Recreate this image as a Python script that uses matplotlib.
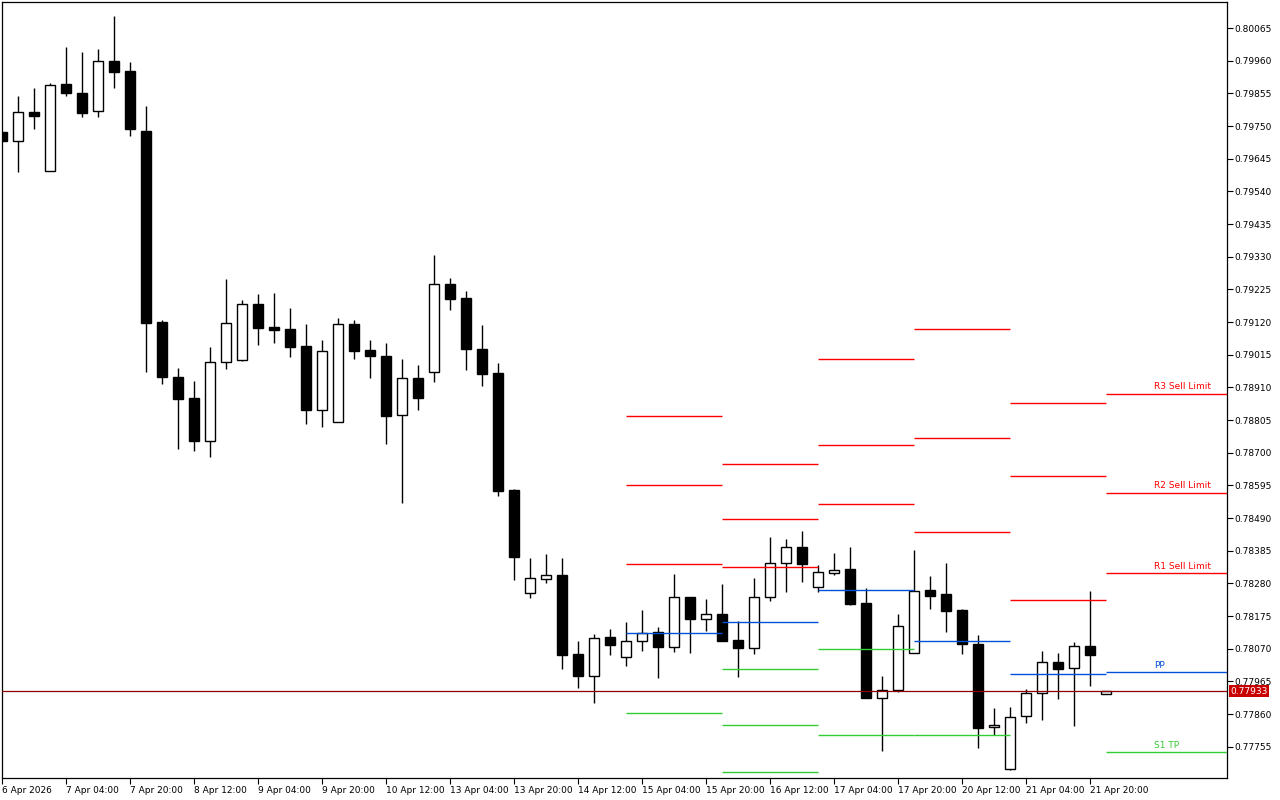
import numpy as np
import matplotlib.pyplot as plt
from matplotlib.transforms import blended_transform_factory

# H4 candles, 6 Apr 12:00 -> 22 Apr 00:00 (weekends skipped)
opens = [0.79731, 0.79703, 0.79794, 0.79606, 0.79885, 0.79855, 0.79797, 0.79958, 0.79927, 0.79734,
         0.79119, 0.78942, 0.78876, 0.78739, 0.78991, 0.78999, 0.79177, 0.79104, 0.79097, 0.79042,
         0.78838, 0.78800, 0.79114, 0.79030, 0.79011, 0.78820, 0.78940, 0.78958, 0.79242, 0.79197,
         0.79033, 0.78956, 0.78580, 0.78248, 0.78295, 0.78307, 0.78053, 0.77983, 0.78108, 0.78042,
         0.78094, 0.78123, 0.78077, 0.78235, 0.78165, 0.78181, 0.78098, 0.78071, 0.78235, 0.78345,
         0.78396, 0.78269, 0.78314, 0.78325, 0.78217, 0.77913, 0.77938, 0.78057, 0.78258, 0.78245,
         0.78195, 0.78085, 0.77818, 0.77683, 0.77853, 0.77927, 0.78026, 0.78007, 0.78078, 0.77924]
highs = [0.79734, 0.79846, 0.79872, 0.79887, 0.80004, 0.79988, 0.79997, 0.80104, 0.79956, 0.79814,
         0.79127, 0.78972, 0.78930, 0.79039, 0.79258, 0.79191, 0.79210, 0.79213, 0.79165, 0.79114,
         0.79062, 0.79133, 0.79127, 0.79062, 0.79052, 0.79001, 0.78982, 0.79335, 0.79262, 0.79220,
         0.79110, 0.78988, 0.78583, 0.78362, 0.78374, 0.78362, 0.78095, 0.78117, 0.78133, 0.78156,
         0.78195, 0.78139, 0.78310, 0.78237, 0.78231, 0.78278, 0.78159, 0.78296, 0.78430, 0.78423,
         0.78448, 0.78340, 0.78378, 0.78398, 0.78264, 0.77983, 0.78181, 0.78387, 0.78304, 0.78346,
         0.78197, 0.78114, 0.77879, 0.77883, 0.77940, 0.78063, 0.78056, 0.78092, 0.78257, 0.77933]
lows = [0.79699, 0.79602, 0.79741, 0.79606, 0.79846, 0.79780, 0.79778, 0.79873, 0.79719, 0.78960,
        0.78922, 0.78713, 0.78706, 0.78687, 0.78970, 0.78996, 0.79046, 0.79054, 0.79008, 0.78793,
        0.78784, 0.78800, 0.79002, 0.78941, 0.78729, 0.78539, 0.78838, 0.78928, 0.79160, 0.78967,
        0.78915, 0.78562, 0.78291, 0.78233, 0.78282, 0.78006, 0.77945, 0.77897, 0.78050, 0.78015,
        0.78064, 0.77977, 0.78060, 0.78057, 0.78128, 0.78096, 0.77980, 0.78053, 0.78224, 0.78253,
        0.78284, 0.78251, 0.78307, 0.78211, 0.77913, 0.77742, 0.77932, 0.78057, 0.78198, 0.78125,
        0.78054, 0.77751, 0.77793, 0.77679, 0.77832, 0.77841, 0.77908, 0.77823, 0.77951, 0.77924]
closes = [0.79702, 0.79794, 0.79782, 0.79881, 0.79857, 0.79793, 0.79958, 0.79925, 0.79741, 0.79118,
          0.78944, 0.78874, 0.78739, 0.78991, 0.79116, 0.79177, 0.79102, 0.79094, 0.79041, 0.78838,
          0.79026, 0.79113, 0.79028, 0.79012, 0.78819, 0.78940, 0.78877, 0.79242, 0.79195, 0.79034,
          0.78954, 0.78578, 0.78366, 0.78296, 0.78306, 0.78051, 0.77983, 0.78104, 0.78083, 0.78094,
          0.78120, 0.78077, 0.78235, 0.78165, 0.78181, 0.78096, 0.78073, 0.78235, 0.78345, 0.78396,
          0.78343, 0.78316, 0.78323, 0.78215, 0.77913, 0.77936, 0.78142, 0.78255, 0.78240, 0.78192,
          0.78086, 0.77816, 0.77824, 0.77852, 0.77927, 0.78026, 0.78006, 0.78078, 0.78051, 0.77933]

time_labels = ["6 Apr 2026", "7 Apr 04:00", "7 Apr 20:00", "8 Apr 12:00", "9 Apr 04:00",
               "9 Apr 20:00", "10 Apr 12:00", "13 Apr 04:00", "13 Apr 20:00", "14 Apr 12:00",
               "15 Apr 04:00", "15 Apr 20:00", "16 Apr 12:00", "17 Apr 04:00", "17 Apr 20:00",
               "20 Apr 12:00", "21 Apr 04:00", "21 Apr 20:00"]
price_ticks = [0.80065, 0.79960, 0.79855, 0.79750, 0.79645, 0.79540, 0.79435, 0.79330,
               0.79225, 0.79120, 0.79015, 0.78910, 0.78805, 0.78700, 0.78595, 0.78490,
               0.78385, 0.78280, 0.78175, 0.78070, 0.77965, 0.77860, 0.77755]

# daily pivot levels (15 Apr .. 22 Apr), first bar index of each day
day_start = [39, 45, 51, 57, 63, 69]
r3 = [0.78817, 0.78663, 0.79000, 0.79097, 0.78859, 0.78889]
r2 = [0.78595, 0.78486, 0.78724, 0.78747, 0.78626, 0.78570]
r1 = [0.78342, 0.78332, 0.78535, 0.78445, 0.78226, 0.78312]
pp = [0.78120, 0.78155, 0.78258, 0.78094, 0.77988, 0.77994]
s1 = [0.77862, 0.78004, 0.78069, 0.77792, np.nan, 0.77737]
s2 = [np.nan, 0.77824, 0.77792, np.nan, np.nan, np.nan]
s3 = [np.nan, 0.77673, np.nan, np.nan, np.nan, np.nan]

last_price = 0.77933

RED = '#ff0000'
BLUE = '#0050d8'
GREEN = '#33cc33'

plt.rcParams['font.family'] = ['DejaVu Sans']

fig = plt.figure(figsize=(12.8, 8), dpi=100)
ax = fig.add_axes([2 / 1280, 22 / 800, 1225 / 1280, 776 / 800])

x_right = 76.54
ax.set_xlim(-0.02, x_right)
ax.set_ylim(0.776545, 0.801486)

idx = np.arange(len(opens))
o = np.array(opens)
c = np.array(closes)
ax.vlines(idx, lows, highs, color='black', lw=1, zorder=2)
bull = c >= o
ax.bar(idx[bull], (c - o)[bull], bottom=o[bull], width=0.62,
       facecolor='white', edgecolor='black', lw=1, zorder=3)
ax.bar(idx[~bull], (o - c)[~bull], bottom=c[~bull], width=0.62,
       facecolor='black', edgecolor='black', lw=1, zorder=3)

# pivot segments
day_end = day_start[1:] + [x_right]
for levels, col in [(r3, RED), (r2, RED), (r1, RED), (pp, BLUE),
                    (s1, GREEN), (s2, GREEN), (s3, GREEN)]:
    ax.hlines(levels, day_start, day_end, color=col, lw=1, zorder=5)

# labels on the current day's levels
for txt, lvl, col in [("R3 Sell Limit", r3[-1], RED), ("R2 Sell Limit", r2[-1], RED),
                      ("R1 Sell Limit", r1[-1], RED), ("PP", pp[-1], BLUE),
                      ("S1 TP", s1[-1], GREEN)]:
    ax.annotate(txt, (72, lvl), xytext=(0, 2), textcoords='offset points',
                color=col, fontsize=6.5, ha='left', va='bottom', zorder=6)

# current price line + tag
ax.axhline(last_price, color='#8b0000', lw=0.9, zorder=5)
trans = blended_transform_factory(ax.transAxes, ax.transData)
ax.text(1.0025, last_price, f"{last_price:.5f}", transform=trans, color='white',
        fontsize=6.5, ha='left', va='center', clip_on=False,
        bbox=dict(boxstyle='square,pad=0.15', facecolor='#c80000', edgecolor='none'))

ax.yaxis.tick_right()
ax.set_yticks(price_ticks)
ax.set_yticklabels([f"{p:.5f}" for p in price_ticks])
ax.set_xticks(idx[::4])
ax.set_xticklabels(time_labels)
for lbl in ax.get_xticklabels():
    lbl.set_horizontalalignment('left')
ax.tick_params(axis='both', direction='out', length=4, width=0.8,
               labelsize=6.5, pad=1.5, colors='black')

for sp in ax.spines.values():
    sp.set_linewidth(0.9)
    sp.set_color('black')

fig.savefig('out.png', dpi=100)
